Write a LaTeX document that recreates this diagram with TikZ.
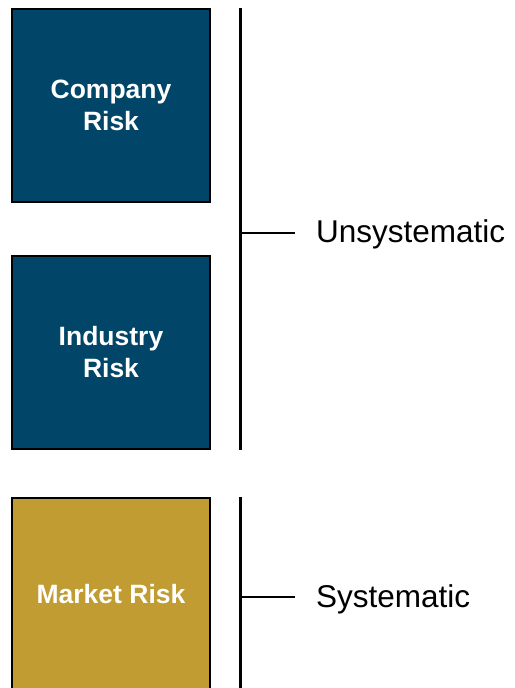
\documentclass[tikz,border=0pt]{standalone}
\usepackage{fontspec}
\setmainfont{Liberation Sans}
\usetikzlibrary{positioning}

\definecolor{riskblue}{RGB}{1,70,104}
\definecolor{riskgold}{RGB}{192,156,50}

\tikzset{
 riskbox/.style={draw=black, line width=2pt, minimum width=198pt, minimum height=193pt,
   inner sep=0pt, text=white, align=center, font=\fontsize{26.5}{32}\selectfont\bfseries},
 bracket/.style={line width=3pt},
 tick/.style={line width=2.5pt},
 tag/.style={anchor=base west, inner sep=0pt, font=\fontsize{31.5}{36}\selectfont}
}

\begin{document}
\begin{tikzpicture}[x=1pt,y=-1pt]
 \useasboundingbox (0,0) rectangle (514,688);
 \clip (0,0) rectangle (514,688);

 % risk boxes
 \node[riskbox, fill=riskblue] (company) at (111,105.5) {Company\\Risk};
 \node[riskbox, fill=riskblue] (industry) at (111,352.5) {Industry\\Risk};
 \node[riskbox, fill=riskgold] (market) at (111,594.5) {Market Risk};

 % brackets
 \coordinate (unsysTop) at (240,8);
 \coordinate (unsysBot) at (240,450);
 \coordinate (sysTop) at (240,497);
 \coordinate (sysBot) at (240,700);
 \draw[bracket] (unsysTop) -- (unsysBot);
 \draw[bracket] (sysTop) -- (sysBot);

 % labels
 \node[tag] (unsys) at (316,242) {Unsystematic};
 \node[tag] (sys) at (316,607) {Systematic};
 \coordinate (unsysMid) at (241,233);
 \coordinate (sysMid) at (241,597);
 \draw[tick] (unsysMid) -- (unsysMid -| 295,0);
 \draw[tick] (sysMid) -- (sysMid -| 295,0);
\end{tikzpicture}
\end{document}
